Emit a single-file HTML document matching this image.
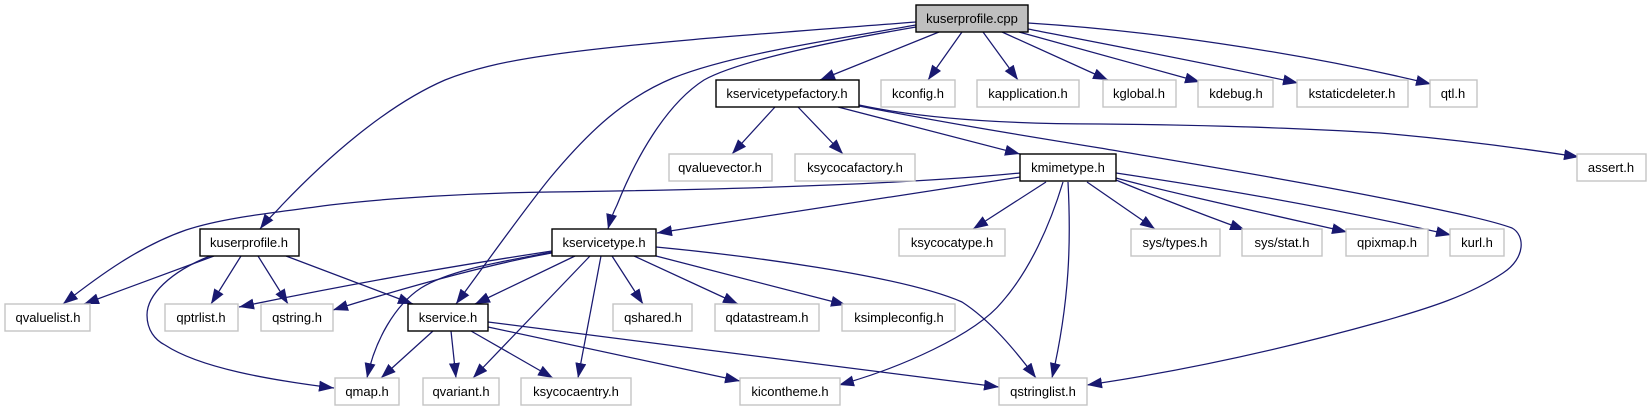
<!DOCTYPE html>
<html><head><meta charset="utf-8"><style>
html,body{margin:0;padding:0;background:#fff}
svg{display:block}
text{font-family:"Liberation Sans",sans-serif;font-size:13px;text-anchor:middle;fill:#000}
.g{fill:#fff;stroke:#c4c4c4;stroke-width:1.4}
.b{fill:#fff;stroke:#000;stroke-width:1.4}
.e path{fill:none;stroke:#191970;stroke-width:1.25;marker-end:url(#a)}
</style></head><body>
<svg width="1651" height="411" viewBox="0 0 1651 411" xmlns="http://www.w3.org/2000/svg">
<defs><marker id="a" markerUnits="userSpaceOnUse" markerWidth="16" markerHeight="12" refX="15" refY="5.5" orient="auto"><polygon points="0,0 15,5.5 0,11" fill="#191970"/></marker></defs>
<g class="e">
<path d="M939,32L820,80"/>
<path d="M962,32L928,80"/>
<path d="M983,32L1018,80"/>
<path d="M1002,32L1108,80"/>
<path d="M1019,32L1200,82"/>
<path d="M1028,29C1100,43 1200,62 1298,83"/>
<path d="M1028,23C1140,30 1290,50 1431,84"/>
<path d="M916,22C800,31 640,42 550,55C500,62 470,70 445,80C385,106 325,160 282,205C275,213 266,221 260,229"/>
<path d="M916,27C840,40 740,60 704,80C665,105 635,160 617,205C613,213 610,221 608,229"/>
<path d="M916,25C830,40 730,55 673,78C625,98 590,130 550,178C520,215 485,265 456,304"/>
<path d="M775,107L732,154"/>
<path d="M798,107L843,154"/>
<path d="M838,107L1020,154"/>
<path d="M859,105C920,118 1000,124 1100,124C1200,125 1300,128 1380,133C1450,139 1520,148 1579,157"/>
<path d="M859,106C940,122 1020,135 1100,148C1200,165 1320,185 1412,204C1450,212 1490,220 1512,228C1525,235 1526,258 1503,273C1470,295 1430,308 1380,322C1290,347 1190,370 1087,385"/>
<path d="M1020,173C900,185 700,190 550,192C470,193 390,198 330,205C280,212 225,217 186,230C140,246 100,275 63,304"/>
<path d="M1020,177L657,233"/>
<path d="M1046,182L973,229"/>
<path d="M1063,182C1050,225 1030,270 1002,302C975,335 900,368 839,385"/>
<path d="M1068,182C1071,240 1070,300 1052,378"/>
<path d="M1087,182L1155,229"/>
<path d="M1116,180C1135,188 1190,210 1245,230"/>
<path d="M1116,178C1160,190 1250,210 1347,232"/>
<path d="M1116,173C1190,184 1320,205 1451,235"/>
<path d="M214,256L84,304"/>
<path d="M241,256L211,304"/>
<path d="M258,256L288,304"/>
<path d="M286,256L413,304"/>
<path d="M210,256C170,272 147,295 147,315C147,330 155,340 165,345C200,368 270,380 334,388"/>
<path d="M433,331L381,378"/>
<path d="M451,331L456,378"/>
<path d="M471,331L553,378"/>
<path d="M488,327L740,381"/>
<path d="M488,322L999,387"/>
<path d="M656,247C740,255 900,275 962,302C990,320 1015,350 1036,378"/>
<path d="M656,256L846,305"/>
<path d="M634,256L738,304"/>
<path d="M612,256L643,304"/>
<path d="M601,256L578,378"/>
<path d="M590,256L473,378"/>
<path d="M575,256L475,304"/>
<path d="M552,251C480,262 380,278 239,307"/>
<path d="M552,253C500,262 420,283 333,310"/>
<path d="M552,252C500,262 450,270 421,288C395,305 375,340 367,378"/>
</g>
<rect x="916" y="5" width="112" height="27" fill="#bfbfbf" stroke="#000" stroke-width="1.4"/><text x="972" y="23">kuserprofile.cpp</text>
<rect class="b" x="716" y="80" width="143" height="27"/><text x="787" y="98">kservicetypefactory.h</text>
<rect class="g" x="881" y="80" width="74" height="27"/><text x="918" y="98">kconfig.h</text>
<rect class="g" x="977" y="80" width="102" height="27"/><text x="1028" y="98">kapplication.h</text>
<rect class="g" x="1103" y="80" width="73" height="27"/><text x="1139" y="98">kglobal.h</text>
<rect class="g" x="1198" y="80" width="75" height="27"/><text x="1236" y="98">kdebug.h</text>
<rect class="g" x="1297" y="80" width="111" height="27"/><text x="1352" y="98">kstaticdeleter.h</text>
<rect class="g" x="1430" y="80" width="47" height="27"/><text x="1453" y="98">qtl.h</text>
<rect class="g" x="669" y="154" width="103" height="27"/><text x="720" y="172">qvaluevector.h</text>
<rect class="g" x="795" y="154" width="120" height="27"/><text x="855" y="172">ksycocafactory.h</text>
<rect class="b" x="1020" y="154" width="96" height="27"/><text x="1068" y="172">kmimetype.h</text>
<rect class="g" x="1577" y="154" width="69" height="27"/><text x="1611" y="172">assert.h</text>
<rect class="b" x="200" y="229" width="99" height="27"/><text x="249" y="247">kuserprofile.h</text>
<rect class="b" x="552" y="229" width="104" height="27"/><text x="604" y="247">kservicetype.h</text>
<rect class="g" x="899" y="229" width="106" height="27"/><text x="952" y="247">ksycocatype.h</text>
<rect class="g" x="1131" y="229" width="89" height="27"/><text x="1175" y="247">sys/types.h</text>
<rect class="g" x="1242" y="229" width="80" height="27"/><text x="1282" y="247">sys/stat.h</text>
<rect class="g" x="1346" y="229" width="82" height="27"/><text x="1387" y="247">qpixmap.h</text>
<rect class="g" x="1450" y="229" width="54" height="27"/><text x="1477" y="247">kurl.h</text>
<rect class="g" x="5" y="304" width="85" height="27"/><text x="48" y="322">qvaluelist.h</text>
<rect class="g" x="165" y="304" width="73" height="27"/><text x="201" y="322">qptrlist.h</text>
<rect class="g" x="261" y="304" width="72" height="27"/><text x="297" y="322">qstring.h</text>
<rect class="b" x="408" y="304" width="80" height="27"/><text x="448" y="322">kservice.h</text>
<rect class="g" x="613" y="304" width="79" height="27"/><text x="653" y="322">qshared.h</text>
<rect class="g" x="715" y="304" width="104" height="27"/><text x="767" y="322">qdatastream.h</text>
<rect class="g" x="842" y="304" width="113" height="27"/><text x="899" y="322">ksimpleconfig.h</text>
<rect class="g" x="335" y="378" width="64" height="27"/><text x="367" y="396">qmap.h</text>
<rect class="g" x="423" y="378" width="76" height="27"/><text x="461" y="396">qvariant.h</text>
<rect class="g" x="521" y="378" width="110" height="27"/><text x="576" y="396">ksycocaentry.h</text>
<rect class="g" x="740" y="378" width="100" height="27"/><text x="790" y="396">kicontheme.h</text>
<rect class="g" x="999" y="378" width="88" height="27"/><text x="1043" y="396">qstringlist.h</text>
</svg>
</body></html>
